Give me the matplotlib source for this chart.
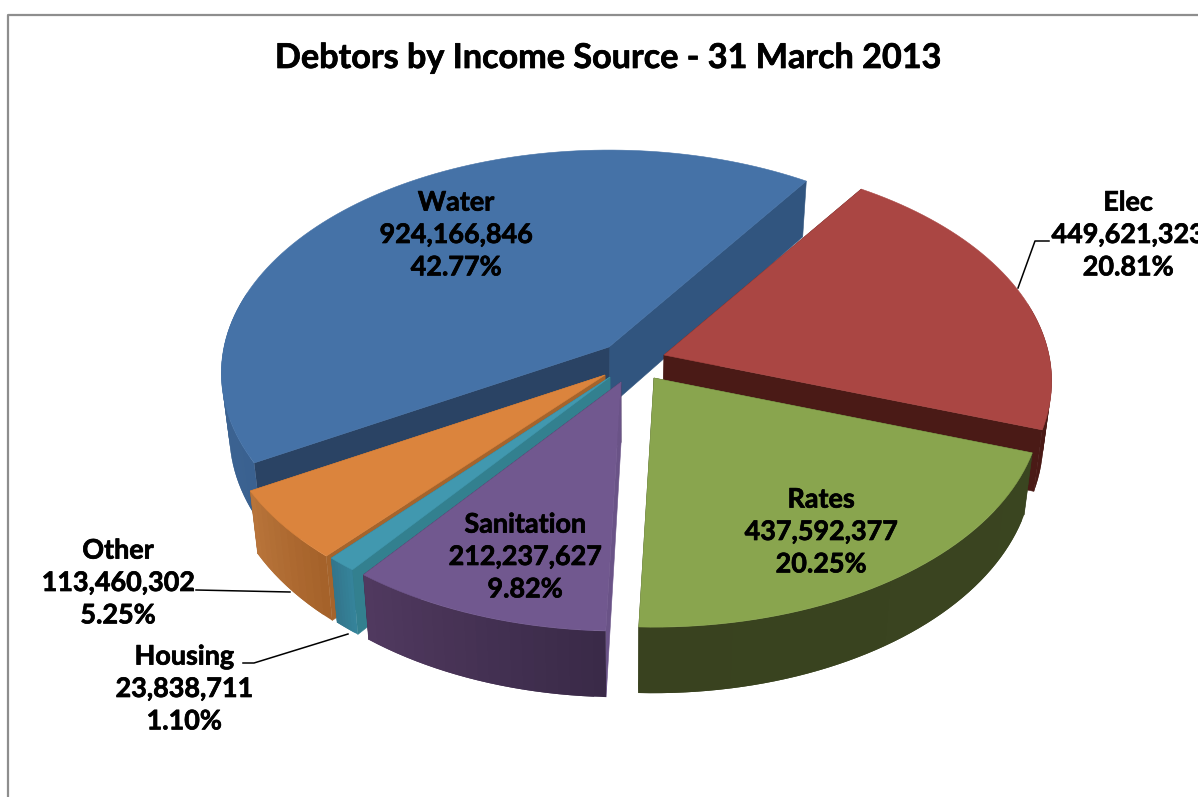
import numpy as np
import matplotlib
matplotlib.use("Agg")
import matplotlib.pyplot as plt
import matplotlib.patheffects as pe
from matplotlib.colors import to_rgb

# Debtor balances in rand, listed clockwise from the top of the pie
categories = ["Elec", "Rates", "Sanitation", "Housing", "Other", "Water"]
values = [449621323, 437592377, 212237627, 23838711, 113460302, 924166846]

chart_title = "Debtors by Income Source - 31 March 2013"

# Face colours of each slice
top_colors = ["#aa4643", "#89a54e", "#71588f", "#4198af", "#db843d", "#4572a7"]
# Outer rim shading, from the clockwise-first end to the far end
rim_colors = [("#4a1a16", "#4a1a16"), ("#3a4520", "#39421f"), ("#3a2a48", "#50395f"),
              ("#35839a", "#33768c"), ("#a5622a", "#b8743a"), ("#3a6190", "#3f6694")]
# Colours of the two radial cut walls (clockwise-first edge, far edge)
cut_colors = [("#4a1a16", "#4a1a16"), ("#39421f", "#39421f"), ("#6a5387", "#3a2a48"),
              ("#33808f", "#2f7080"), ("#a5642c", "#a5642c"), ("#2a4364", "#31557f")]

# Exploded apex of each slice, in figure pixels
apexes = [(664, 355), (654, 378), (621, 382), (610, 377), (605, 375), (609, 347)]
# Centre of each data label, in figure pixels
label_xy = [(1128, 235), (821, 532), (525, 557), (184, 689), (118, 583), (456, 235)]

START_ANGLE = 55.8       # where the first slice begins, degrees
RADIUS_X, RADIUS_Y = 385.0, 220.0
PERSPECTIVE = 0.117      # foreshortening of the far half of the disc
WIDTH, HEIGHT = 1198, 797


def project(apex, theta):
    """Map unit-circle angles onto the tilted disc around an apex."""
    u, v = np.cos(theta), np.sin(theta)
    w = 1 + PERSPECTIVE * v
    return apex[0] + RADIUS_X * u / w, apex[1] - RADIUS_Y * v / w


def drop(x, y):
    """Bottom-face position under a point of the top face."""
    x, y = np.asarray(x, float), np.asarray(y, float)
    return 625 + (x - 625) * 0.98, y + 60 + (y - 365) * 0.023


fig = plt.figure(figsize=(WIDTH / 100, HEIGHT / 100), dpi=100)
ax = fig.add_axes([0, 0, 1, 1])
ax.set_xlim(0, WIDTH)
ax.set_ylim(HEIGHT, 0)
ax.axis("off")

# Chart-area frame, which runs off the right and bottom edges
ax.plot([WIDTH + 5, 8, 8], [15, 15, HEIGHT + 5], color="#8e8e8e", lw=1.6, zorder=1)

total = sum(values)
fractions = np.array(values) / total
edges = START_ANGLE - 360 * np.concatenate([[0], np.cumsum(fractions)])

# Painter's order: back slices first
draw_order = [5, 0, 4, 3, 2, 1]
z = 2
for i in draw_order:
    apex = apexes[i]
    thetas = np.radians(np.linspace(edges[i], edges[i + 1], max(int(fractions[i] * 240), 8)))
    rx, ry = project(apex, thetas)
    bx, by = drop(rx, ry)
    ax0, ay0 = drop(apex[0], apex[1])

    # Radial cut walls
    for end, color in zip((-1, 0), cut_colors[i][::-1]):
        ax.fill([apex[0], rx[end], bx[end], ax0], [apex[1], ry[end], by[end], ay0],
                color=color, lw=0.4, zorder=z)
        z += 1

    # Rim on the near side only, in overlapping strips so the shading runs along the arc
    c0, c1 = np.array(to_rgb(rim_colors[i][0])), np.array(to_rgb(rim_colors[i][1]))
    facing = np.flatnonzero(np.sin(thetas) < 0.25)
    n = len(facing) - 1
    for step in range(n):
        k = facing[step]
        j = min(facing[min(step + 2, n)], k + 2)
        color = c0 + (c1 - c0) * step / max(n - 1, 1)
        ax.fill(np.r_[rx[k:j + 1], bx[k:j + 1][::-1]], np.r_[ry[k:j + 1], by[k:j + 1][::-1]],
                color=color, lw=0, zorder=z)
        z += 1

    # Top face
    ax.fill(np.r_[apex[0], rx], np.r_[apex[1], ry], color=top_colors[i], lw=0.4, zorder=z)
    z += 1

# Leader lines for the labels set outside the pie
ax.plot([1018, 1035, 1049], [288, 241, 241], color="black", lw=1.1, zorder=z)
ax.plot([196, 290], [590, 592], color="black", lw=1.1, zorder=z)
ax.plot([243, 254, 348], [663, 663, 634], color="black", lw=1.1, zorder=z)
z += 1

heavier = [pe.withStroke(linewidth=0.5, foreground="black")]
label_style = dict(family="Lato", weight="bold", fontsize=19.4, color="black",
                   ha="center", va="center", linespacing=1.42, zorder=z,
                   path_effects=heavier)
for name, value, share, (x, y) in zip(categories, values, fractions, label_xy):
    ax.text(x, y, f"{name}\n{value:,}\n{share * 100:.2f}%", **label_style)

ax.text(608, 58, chart_title, family="Lato", weight="bold", fontsize=24.6,
        color="black", ha="center", va="center", zorder=z, path_effects=heavier)

fig.savefig("out.png", dpi=100, facecolor="white")
